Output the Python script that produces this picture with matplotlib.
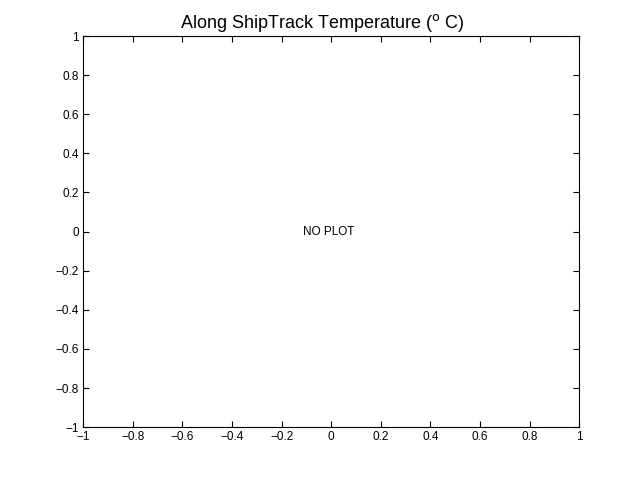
import numpy as np
import matplotlib
matplotlib.use('Agg')
import matplotlib.pyplot as plt

plt.rcParams['font.family'] = ['Liberation Sans', 'DejaVu Sans']

title = 'Along ShipTrack Temperature ($^{\\mathrm{o}}$ C)'
message = 'NO PLOT'
x_ticks = [-1, -0.8, -0.6, -0.4, -0.2, 0, 0.2, 0.4, 0.6, 0.8, 1]
y_ticks = [-1, -0.8, -0.6, -0.4, -0.2, 0, 0.2, 0.4, 0.6, 0.8, 1]


def fmt(v):
    s = '%g' % v
    return s.replace('-', '\u2212')


fig = plt.figure(figsize=(6.4, 4.8), dpi=100)
ax = fig.add_axes([0.13, 0.11, 0.775, 0.815])
ax.set_xlim(-1, 1)
ax.set_ylim(-1, 1)
ax.set_xticks(x_ticks)
ax.set_yticks(y_ticks)
ax.set_xticklabels([fmt(v) for v in x_ticks])
ax.set_yticklabels([fmt(v) for v in y_ticks])
ax.tick_params(direction='in', top=True, right=True, length=4, width=0.8,
               labelsize=8.5, pad=3)
for sp in ax.spines.values():
    sp.set_linewidth(0.8)

ax.text(-0.115, 0, message, ha='left', va='center', fontsize=8.5)
ax.set_title(title, fontsize=13, pad=6, x=0.482)

fig.savefig('out.png', dpi=100)
